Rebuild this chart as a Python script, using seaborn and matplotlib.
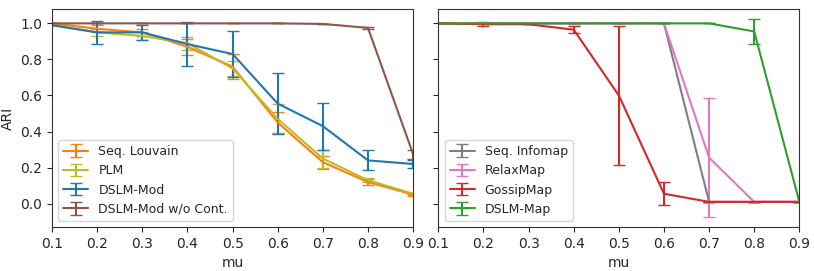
import numpy as np
import seaborn as sns
from matplotlib import pyplot as plt

mu = [0.1, 0.2, 0.3, 0.4, 0.5, 0.6, 0.7, 0.8, 0.9]

# left panel: modularity based methods
louvain = [1.0, 0.97, 0.95, 0.87, 0.76, 0.45, 0.23, 0.12, 0.05]
louvain_err = [0.0, 0.02, 0.02, 0.045, 0.07, 0.06, 0.035, 0.015, 0.005]
plm = [0.99, 0.95, 0.93, 0.89, 0.75, 0.47, 0.25, 0.13, 0.055]
plm_err = [0.0, 0.02, 0.02, 0.035, 0.04, 0.08, 0.05, 0.01, 0.005]
dslm_mod = [0.99, 0.95, 0.95, 0.885, 0.83, 0.555, 0.43, 0.24, 0.22]
dslm_mod_err = [0.0, 0.065, 0.04, 0.12, 0.13, 0.17, 0.13, 0.055, 0.02]
dslm_nocont = [1.0, 1.0, 1.0, 1.0, 1.0, 1.0, 0.997, 0.975, 0.275]
dslm_nocont_err = [0.0, 0.0, 0.0, 0.0, 0.0, 0.0, 0.0, 0.005, 0.025]

# right panel: map equation based methods
infomap = [1.0, 1.0, 1.0, 1.0, 1.0, 1.0, 0.01, 0.01, 0.01]
infomap_err = [0.0, 0.0, 0.0, 0.0, 0.0, 0.0, 0.0, 0.0, 0.0]
relaxmap = [1.0, 1.0, 1.0, 1.0, 1.0, 1.0, 0.255, 0.01, 0.01]
relaxmap_err = [0.0, 0.0, 0.0, 0.005, 0.0, 0.0, 0.33, 0.0, 0.0]
gossipmap = [1.0, 0.995, 0.995, 0.965, 0.60, 0.055, 0.01, 0.01, 0.01]
gossipmap_err = [0.0, 0.01, 0.0, 0.02, 0.385, 0.065, 0.0, 0.0, 0.0]
dslm_map = [1.0, 1.0, 1.0, 1.0, 1.0, 1.0, 1.0, 0.955, 0.01]
dslm_map_err = [0.0, 0.0, 0.0, 0.0, 0.0, 0.0, 0.0, 0.07, 0.0]

sns.set_style("ticks")
plt.rcParams['font.family'] = ['DejaVu Sans']
plt.rcParams['font.size'] = 10
pal = sns.color_palette("tab10")

fig, (ax1, ax2) = plt.subplots(1, 2, figsize=(8.14, 2.71), dpi=100, sharey=True)
fig.subplots_adjust(left=0.064, right=0.982, bottom=0.162, top=0.967, wspace=0.07)

left_series = [
    ("Seq. Louvain", louvain, louvain_err, pal[1]),
    ("PLM", plm, plm_err, pal[8]),
    ("DSLM-Mod", dslm_mod, dslm_mod_err, pal[0]),
    ("DSLM-Mod w/o Cont.", dslm_nocont, dslm_nocont_err, pal[5]),
]
right_series = [
    ("Seq. Infomap", infomap, infomap_err, pal[7]),
    ("RelaxMap", relaxmap, relaxmap_err, pal[6]),
    ("GossipMap", gossipmap, gossipmap_err, pal[3]),
    ("DSLM-Map", dslm_map, dslm_map_err, pal[2]),
]

for ax, series in [(ax1, left_series), (ax2, right_series)]:
    for name, vals, err, col in series:
        ax.errorbar(mu, vals, yerr=err, color=col, label=name, capsize=4.3, lw=1.5)
    ax.set_xlim(0.1, 0.9)
    ax.set_xticks(mu)
    ax.set_xlabel("mu")
    ax.legend(loc="lower left", fontsize=9)
    for s in ax.spines.values():
        s.set_color("#333333")

ax1.set_ylim(-0.13, 1.08)
ax1.set_yticks([0.0, 0.2, 0.4, 0.6, 0.8, 1.0])
ax1.set_ylabel("ARI")

plt.savefig("out.png")
